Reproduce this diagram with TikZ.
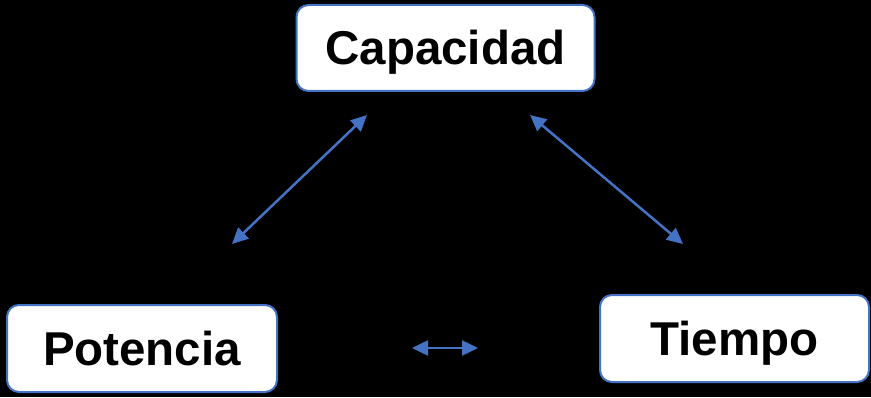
\documentclass[tikz,border=0pt]{standalone}
\usepackage{fontspec}
\setmainfont{Liberation Sans}
\usetikzlibrary{arrows.meta}
\definecolor{cajaazul}{RGB}{68,114,196}
\definecolor{flechaazul}{RGB}{68,114,196}
\tikzset{
  caja/.style={draw=cajaazul,line width=2pt,fill=white,rounded corners=12pt,inner sep=0pt,
    text height=34pt,text depth=0pt,font=\fontsize{47.5}{52}\selectfont\bfseries},
  flecha/.style={flechaazul,line width=2.5pt,{Triangle[length=16pt,width=15pt]}-{Triangle[length=16pt,width=15pt]}}
}
\begin{document}
\begin{tikzpicture}[x=1pt,y=1pt]
%fondo
\fill[black] (0,0) rectangle (871,397);
\useasboundingbox (0,0) rectangle (871,397);
%cajas
\node[caja,minimum width=298pt,minimum height=86pt] (cap) at (445.5,349) {Capacidad};
\node[caja,minimum width=270pt,minimum height=87pt] (pot) at (142,48.5) {Potencia};
\node[caja,minimum width=269pt,minimum height=87pt] (tie) at (734.5,58.5) {Tiempo};
%extremos de las flechas
\coordinate (capI) at (367,282);
\coordinate (potS) at (232,153);
\coordinate (capD) at (530,282);
\coordinate (tieS) at (683,153);
\coordinate (potD) at (412,49);
\coordinate (tieI) at (478,49);
%flechas
\draw[flecha] (potS) -- (capI);
\draw[flecha] (capD) -- (tieS);
\draw[flecha] (potD) -- (tieI);
\end{tikzpicture}
\end{document}
